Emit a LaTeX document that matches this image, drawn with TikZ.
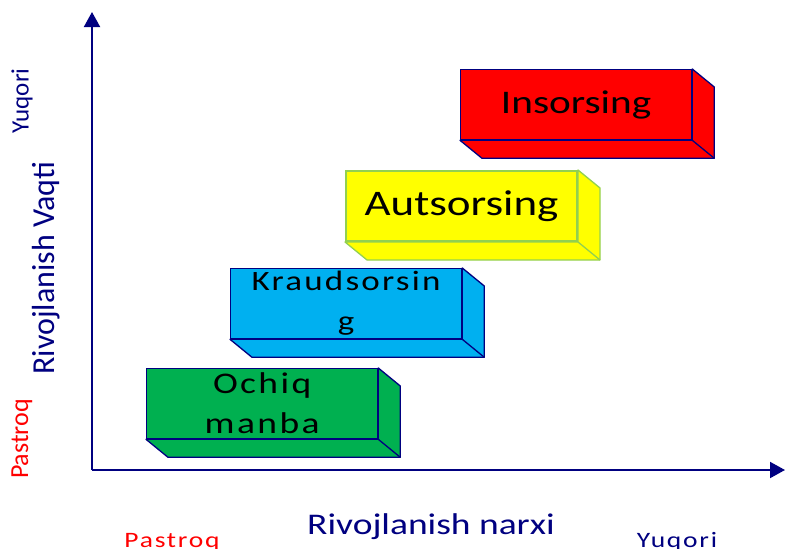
\documentclass[tikz,border=0pt]{standalone}
\usepackage{fontspec}
\setmainfont{Carlito}
\newfontfamily\stretchfont[FakeStretch=1.25]{Carlito}
\newfontfamily\widefont[FakeStretch=1.25,LetterSpace=8]{Carlito}
\usetikzlibrary{arrows.meta}
\definecolor{navyline}{RGB}{0,0,128}
\definecolor{greenbox}{RGB}{0,176,80}
\definecolor{bluebox}{RGB}{0,176,240}
\definecolor{yellowbox}{RGB}{255,255,0}
\definecolor{yellowline}{RGB}{146,208,80}
\definecolor{redbox}{RGB}{255,0,0}
\tikzset{
  slab/.style={rectangle, draw=navyline, line width=1.3pt,
    minimum width=231pt, minimum height=70pt, inner sep=0pt,
    anchor=north west, align=center, text=black},
  axisline/.style={navyline, line width=2pt,
    -{Triangle[length=15pt,width=16pt]}},
  axistext/.style={text=navyline, inner sep=0pt}
}
% side and bottom faces of a slab
\newcommand{\slabdepth}[3]{%
  \draw[draw=#3, line width=1.3pt, fill=#2, line join=round]
    (#1.south west) -- ++(22,18) -- ([shift={(22,18)}]#1.south east)
    -- ([shift={(22,18)}]#1.north east) -- (#1.north east)
    -- (#1.south east) -- cycle;
  \draw[draw=#3, line width=1.3pt] (#1.south east) -- ++(22,18);
}

\begin{document}
\begin{tikzpicture}[x=1pt,y=-1pt]
\useasboundingbox (0,0) rectangle (785,549);

% axes
\coordinate (origin) at (92,470);
\coordinate (ytop) at (92,12);
\coordinate (xend) at (785,470);
\draw[axisline] (origin) -- (ytop);
\draw[axisline] (origin) -- (xend);

% slabs
\node (ochiq) [slab, fill=greenbox, font=\widefont\fontsize{30}{40}\selectfont]
  at (146,368) {Ochiq\\manba};
\slabdepth{ochiq}{greenbox}{navyline}
\node (kraud) [slab, fill=bluebox, font=\widefont\fontsize{28}{40}\selectfont]
  at (230,268) {Kraudsorsin\\g};
\slabdepth{kraud}{bluebox}{navyline}
\node (auts) [slab, fill=yellowbox, draw=yellowline, line width=2pt,
  font=\stretchfont\fontsize{36}{40}\selectfont] at (345,170) {Autsorsing};
\slabdepth{auts}{yellowbox}{yellowline}
\node (ins) [slab, fill=redbox, font=\stretchfont\fontsize{33}{40}\selectfont]
  at (460,69) {Insorsing};
\slabdepth{ins}{redbox}{navyline}

% axis labels
\node (xname) [axistext, font=\stretchfont\fontsize{30}{32}\selectfont] at (431,527) {Rivojlanish narxi};
\node (xlow) [axistext, anchor=base, text=red, font=\widefont\fontsize{22}{24}\selectfont] at (172,547) {Pastroq};
\node (xhigh) [axistext, anchor=base, font=\widefont\fontsize{22}{24}\selectfont] at (677,547) {Yuqori};
\node (yname) [axistext, rotate=90, font=\fontsize{32}{34}\selectfont] at (46,268) {Rivojlanish Vaqti};
\node (yhigh) [axistext, rotate=90, font=\fontsize{25}{26}\selectfont] at (22,101) {Yuqori};
\node (ylow) [axistext, rotate=90, text=red, font=\fontsize{26}{28}\selectfont] at (22,439) {Pastroq};
\end{tikzpicture}
\end{document}
